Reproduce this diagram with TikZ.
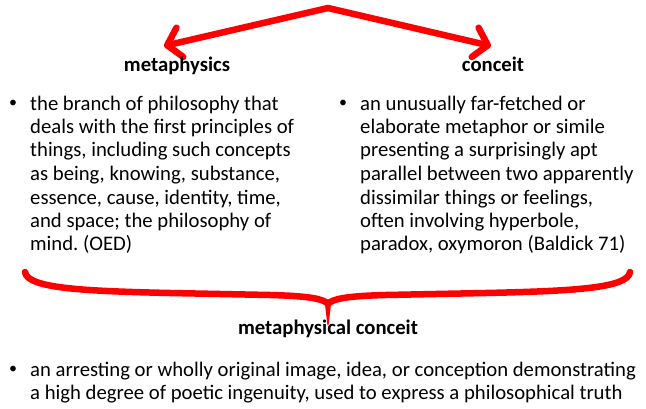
\documentclass[tikz,border=0pt]{standalone}
\usepackage{fontspec}
\setmainfont{Carlito}
\usetikzlibrary{arrows.meta}
\definecolor{bRed}{RGB}{255,0,0}
\frenchspacing

\begin{document}
\begin{tikzpicture}[x=1pt,y=-1pt,
  arr/.style={bRed,line width=6.5pt,line cap=round,line join=round,
              -{Straight Barb[length=13pt,width=30pt,line cap=round,line join=round]}},
  hd/.style={inner sep=0,anchor=base,font=\fontsize{20.7}{24}\selectfont\bfseries},
  txt/.style={inner sep=0,anchor=base west,align=left,font=\fontsize{20.7}{23.5}\selectfont},
  blt/.style={inner sep=0,anchor=center,font=\fontsize{16}{18}\selectfont}]

  \useasboundingbox (0,0) rectangle (646,409);

  % ---- arrows ----
  \coordinate (peak) at (328,8);
  \coordinate (mtip) at (164,46);
  \coordinate (ctip) at (491,46);
  \foreach \t in {mtip,ctip}
    \draw[arr] (peak)--(\t);

  % ---- metaphysics (text anchored on its last baseline) ----
  \node[hd] (meta) at (177,72) {metaphysics};
  \node[blt] (mb) at (13,104) {•};
  \node[txt] (mt) at (30,251) {the branch of philosophy that\\
    deals with the first principles of\\
    things, including such concepts\\
    as being, knowing, substance,\\
    essence, cause, identity, time,\\
    and space; the philosophy of\\
    mind. (OED)};

  % ---- conceit ----
  \node[hd] (conc) at (493,72) {conceit};
  \node[blt] (cb) at (343,104) {•};
  \node[txt] (ct) at (360,251) {an unusually far-fetched or\\
    elaborate metaphor or simile\\
    presenting a surprisingly apt\\
    parallel between two apparently\\
    dissimilar things or feelings,\\
    often involving hyperbole,\\
    paradox, oxymoron (Baldick 71)};

  % ---- brace ----
  \draw[bRed,line width=6.5pt,line cap=round]
    (25,272) .. controls (27,288) and (80,291) .. (170,293)
    -- (270,295) .. controls (310,296) and (324,299) .. (328,304);
  \draw[bRed,line width=6.5pt,line cap=round]
    (630,272) .. controls (628,288) and (575,291) .. (486,293)
    -- (386,295) .. controls (346,296) and (332,299) .. (328,304);
  \fill[bRed] (324.5,300) -- (331.5,300) -- (328.6,325) -- (327.4,325) -- cycle;

  % ---- metaphysical conceit ----
  \node[hd] (mc) at (328,334) {metaphysical conceit};
  \node[blt] (mcb) at (13,370) {•};
  \node[txt] (mct) at (30,399.5) {an arresting or wholly original image, idea, or conception demonstrating\\
    a high degree of poetic ingenuity, used to express a philosophical truth};

\end{tikzpicture}
\end{document}
